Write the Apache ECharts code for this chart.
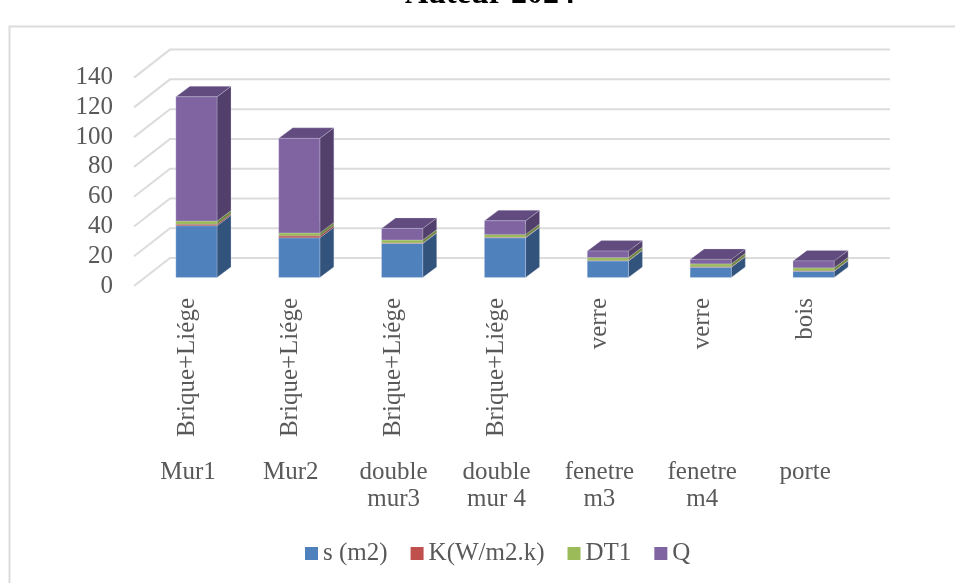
<!DOCTYPE html>
<html><head><meta charset="utf-8">
<style>html,body{margin:0;padding:0;background:#fff;overflow:hidden}#c{width:955px;height:583px}</style>
<script src="https://cdn.jsdelivr.net/npm/echarts@6/dist/echarts.min.js"></script>
</head><body><div id="c"></div>
<script>
const materials = ['Brique+Liége','Brique+Liége','Brique+Liége','Brique+Liége','verre','verre','bois'];
const elements = ['Mur1','Mur2','double\nmur3','double\nmur 4','fenetre\nm3','fenetre\nm4','porte'];
const yTicks = [0,20,40,60,80,100,120,140];
const sValues  = [34.7,26.6,22.8,26.6,11.1,6.9,4.2];
const kValues  = [1.0,1.3,0.3,0.3,0.2,0.2,0.2];
const dtValues = [2.2,2.0,2.0,2.0,2.0,2.0,2.0];
const qValues  = [83.4,63.5,7.8,9.1,4.4,3.0,4.7];

const FONT = 'Liberation Serif';
const TXT = '#595959';
const wallDepth = [36,-28], barDepth = [14,-10.5], barInset = [11,-8.6];

const stacks = [
 {name:'s (m2)', values:sValues, front:'#4f81bd', side:'#32537c', top:'#3f6797'},
 {name:'K(W/m2.k)', values:kValues, front:'#c0504d', side:'#8c3836', top:'#9a403e'},
 {name:'DT1', values:dtValues, front:'#9bbb59', side:'#6e873c', top:'#7c9647'},
 {name:'Q', values:qValues, front:'#8064a2', side:'#533f6b', top:'#624b7e'}
];
const totals = materials.map(()=>0);
function poly(points, fill){
  return {type:'polygon', shape:{points}, style:{fill, stroke:'rgba(220,225,240,0.45)', lineWidth:0.6}};
}
const series = [{
  type:'custom', silent:true, z:1, coordinateSystem:'cartesian2d', xAxisIndex:0, yAxisIndex:0,
  data: yTicks.map(v=>[0,v]),
  encode:{x:0,y:1},
  renderItem(params, api){
    const v = api.value(1);
    const y = api.coord([0,v])[1];
    const left = params.coordSys.x, right = left + params.coordSys.width;
    return {type:'polyline', shape:{points:[[left,y],[left+wallDepth[0],y+wallDepth[1]],[right+wallDepth[0],y+wallDepth[1]]]},
      style:{stroke:'#dcdcdc', lineWidth:2, fill:null}};
  }
}];
stacks.forEach((st,si)=>{
  const data = st.values.map((v,i)=>{const b=totals[i]; totals[i]+=v; return [i,b,totals[i]];});
  series.push({
    type:'custom', name:st.name, z:2+si, coordinateSystem:'cartesian2d', xAxisIndex:0, yAxisIndex:0, silent:true,
    itemStyle:{color:st.front}, data, encode:{x:0,y:2},
    renderItem(params, api){
      const i = api.value(0);
      const c0 = api.coord([i, api.value(1)]), c1 = api.coord([i, api.value(2)]);
      const w = api.size([1,0])[0]*0.4;
      const x0 = c0[0]+barInset[0]-w/2, x1 = x0+w;
      const y0 = c0[1]+barInset[1], y1 = c1[1]+barInset[1];
      const dx = barDepth[0], dy = barDepth[1];
      return {type:'group', children:[
        poly([[x1,y0],[x1+dx,y0+dy],[x1+dx,y1+dy],[x1,y1]], st.side),
        poly([[x0,y1],[x1,y1],[x1+dx,y1+dy],[x0+dx,y1+dy]], st.top),
        poly([[x0,y0],[x1,y0],[x1,y1],[x0,y1]], st.front)
      ]};
    }
  });
});
const chart = echarts.init(document.getElementById('c'), null, {renderer:'canvas'});
chart.setOption({
  animation:false, backgroundColor:'#fff',
  textStyle:{fontFamily:FONT},
  title:{text:'Auteur 2024', left:490, top:-21, textAlign:'center', padding:0, textStyle:{fontFamily:FONT,fontWeight:'bold',fontSize:32,color:'#000'}},
  graphic:[{type:'rect', z:-1, shape:{x:9.5,y:26.5,width:960,height:570}, style:{fill:'#fff',stroke:'#dcdcdc',lineWidth:2}}],
  grid:[
    {left:134, right:101, top:77.6, height:208.4},
    {left:136.5, right:98.5, top:77.6, height:208.4}
  ],
  xAxis:[
    {type:'category', gridIndex:0, data:materials, show:false},
    {type:'category', gridIndex:1, data:materials, position:'bottom', axisLine:{show:false}, axisTick:{show:false},
     axisLabel:{interval:0, rotate:90, margin:12, fontFamily:FONT, fontSize:25, color:TXT}},
    {type:'category', gridIndex:1, data:elements, position:'bottom', offset:173, axisLine:{show:false}, axisTick:{show:false},
     axisLabel:{interval:0, margin:0, fontFamily:FONT, fontSize:25, lineHeight:27, color:TXT}}
  ],
  yAxis:[
    {type:'value', gridIndex:0, min:0, max:140, interval:20, axisLine:{show:false}, axisTick:{show:false}, splitLine:{show:false},
     axisLabel:{margin:21, padding:[0,0,5,0], fontFamily:FONT, fontSize:25, color:TXT}},
    {type:'value', gridIndex:1, min:0, max:140, show:false, splitLine:{show:false}}
  ],
  legend:{left:305, top:541, padding:0, icon:'rect', itemWidth:13, itemHeight:13, itemGap:23, selectedMode:false,
     textStyle:{fontFamily:FONT,fontSize:25,color:TXT}, data:stacks.map(s=>s.name)},
  series
});
</script></body></html>
